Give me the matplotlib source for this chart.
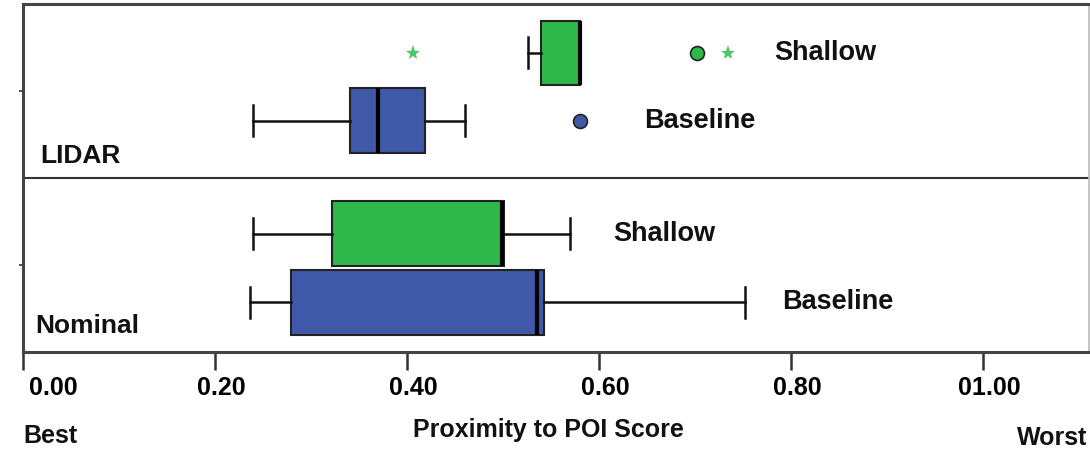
import matplotlib
matplotlib.use("Agg")
import matplotlib.pyplot as plt
import matplotlib.transforms as mtransforms

plt.rcParams['font.family'] = ['Liberation Sans', 'DejaVu Sans']

# Box statistics: (whisker low, q1, median, q3, whisker high)
groups = ["Nominal Baseline", "Nominal Shallow", "LIDAR Baseline", "LIDAR Shallow"]
whislo = [0.236, 0.240, 0.240, 0.526]
q1 = [0.279, 0.322, 0.341, 0.539]
med = [0.535, 0.499, 0.370, 0.580]
q3 = [0.542, 0.501, 0.419, 0.580]
whishi = [0.752, 0.570, 0.460, 0.580]
series = ["Baseline", "Shallow", "Baseline", "Shallow"]

# Outliers
circle_x = [None, None, [0.580], [0.702]]
star_x = [None, None, None, [0.406, 0.734]]

positions = [0.57, 1.36, 2.66, 3.44]
colors = {"Baseline": "#3f58a8", "Shallow": "#2eb84a"}
star_color = "#4ec866"

label_x = [0.79, 0.615, 0.647, 0.782]
section_labels = ["Nominal", "LIDAR"]
section_x = [0.013, 0.018]
section_y = [0.3, 2.25]

xticks = [0.0, 0.2, 0.4, 0.6, 0.8, 1.0]
xticklabels = ["0.00", "0.20", "0.40", "0.60", "0.80", "01.00"]

fig = plt.figure(figsize=(10.9, 4.53), dpi=100)
ax = fig.add_axes([23/1090, 101/453, 1066/1090, 348/453])

stats = []
for i in range(4):
    stats.append(dict(whislo=whislo[i], q1=q1[i], med=med[i], q3=q3[i],
                      whishi=whishi[i], fliers=[]))
bp = ax.bxp(stats, positions=positions, widths=0.74, vert=False,
            patch_artist=True, showfliers=False, capwidths=0.36,
            medianprops=dict(color='black', linewidth=3),
            whiskerprops=dict(color='#111111', linewidth=1.8),
            capprops=dict(color='#111111', linewidth=1.8),
            boxprops=dict(edgecolor='#222222', linewidth=1.5))
for patch, s in zip(bp['boxes'], series):
    patch.set_facecolor(colors[s])

for i in range(4):
    c = colors[series[i]]
    if circle_x[i]:
        ax.plot(circle_x[i], [positions[i]] * len(circle_x[i]), 'o', color=c,
                markeredgecolor='#222222', markersize=10, markeredgewidth=1.2)
    if star_x[i]:
        ax.plot(star_x[i], [positions[i]] * len(star_x[i]), '*', color=star_color,
                markersize=11, markeredgewidth=0)
    ax.text(label_x[i], positions[i], series[i], fontsize=19.5, fontweight='bold',
            va='center', ha='left', color='#111111')

for lab, x, y in zip(section_labels, section_x, section_y):
    ax.text(x, y, lab, fontsize=19, fontweight='bold', va='center', ha='left',
            color='#111111')

ax.axhline(2.0, color='#333333', linewidth=1.5)

ax.set_xlim(0, 1.11)
ax.set_ylim(0, 4)
ax.set_xticks(xticks)
ax.set_xticklabels(xticklabels, fontsize=18, fontweight='bold')
ax.set_yticks([1, 3])
ax.set_yticklabels([])
ax.tick_params(axis='x', length=13, width=1.8, color='#333333', pad=4)
ax.tick_params(axis='y', length=3, width=1.2, color='#333333')
offset = mtransforms.ScaledTranslation(6/100, 0, fig.dpi_scale_trans)
for k, lab in enumerate(ax.get_xticklabels()):
    lab.set_transform(lab.get_transform() + offset)
    if k == 0:
        lab.set_horizontalalignment('left')
for side in ['left', 'bottom', 'top']:
    ax.spines[side].set_color('#444444')
    ax.spines[side].set_linewidth(2.2)
ax.spines['right'].set_color('#bbbbbb')
ax.spines['right'].set_linewidth(1.2)

fig.text(23/1090, 1 - 436/453, "Best", fontsize=18, fontweight='bold',
         va='center', ha='left', color='#111111')
fig.text(548/1090, 1 - 430/453, "Proximity to POI Score", fontsize=18,
         fontweight='bold', va='center', ha='center', color='#111111')
fig.text(1087/1090, 1 - 438/453, "Worst", fontsize=18, fontweight='bold',
         va='center', ha='right', color='#111111')

fig.savefig("out.png", dpi=100, facecolor='white')
